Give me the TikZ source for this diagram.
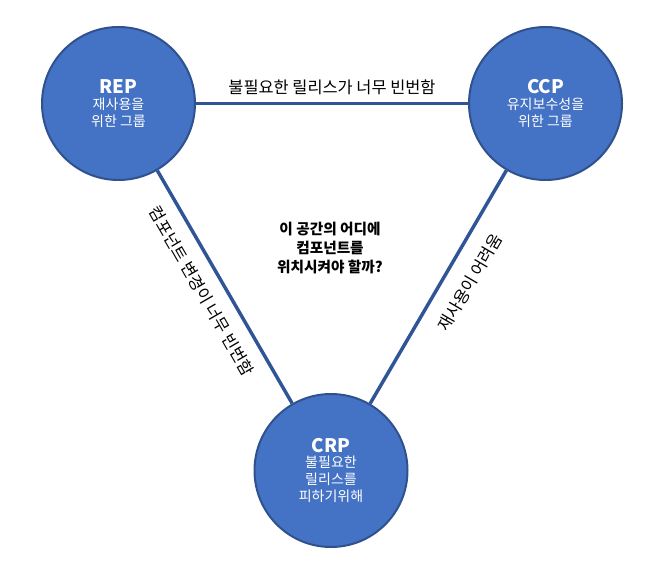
\documentclass[tikz,border=0pt]{standalone}
\usepackage{fontspec}
\setmainfont{Noto Sans CJK KR}
\definecolor{circfill}{HTML}{4472C4}
\definecolor{circdraw}{HTML}{2F528F}
\definecolor{linecol}{HTML}{2F5597}
\begin{document}
\begin{tikzpicture}[x=0.75pt,y=-0.75pt,
  pcircle/.style={circle, fill=circfill, draw=circdraw, line width=1.5pt,
    minimum size=153*0.75pt, inner sep=0pt, text=white, align=center,
    font=\fontsize{10.5}{12.8}\selectfont},
  conn/.style={draw=linecol, line width=2.6pt},
  lbl/.style={font=\fontsize{12.3}{14}\selectfont, inner sep=0pt, text=black}]
\useasboundingbox (0,0) rectangle (657,577);
\node[pcircle] (rep) at (118.5,103.5) {{\fontsize{14}{17}\selectfont\bfseries REP}\\[-1pt]재사용을\\위한 그룹};
\node[pcircle] (ccp) at (545.5,103.5) {{\fontsize{14}{17}\selectfont\bfseries CCP}\\[-1pt]유지보수성을\\위한 그룹};
\node[pcircle] (crp) at (331,470.5) {{\fontsize{14}{17}\selectfont\bfseries CRP}\\[-1pt]불필요한\\릴리스를\\피하기위해};
\draw[conn] (rep) -- node[lbl, above=5pt] (top) {불필요한 릴리스가 너무 빈번함} (ccp);
\draw[conn] (rep) -- node[lbl, sloped, pos=0.47, below=9.5pt] (left) {컴포넌트 변경이 너무 빈번함} (crp);
\draw[conn] (crp) -- node[lbl, sloped, pos=0.575, below=12pt] (right) {재사용이 어려움} (ccp);
\node[align=center, font=\fontsize{11}{14.2}\selectfont\bfseries] (mid) at (330,248) {이 공간의 어디에\\컴포넌트를\\위치시켜야 할까?};
\end{tikzpicture}
\end{document}
